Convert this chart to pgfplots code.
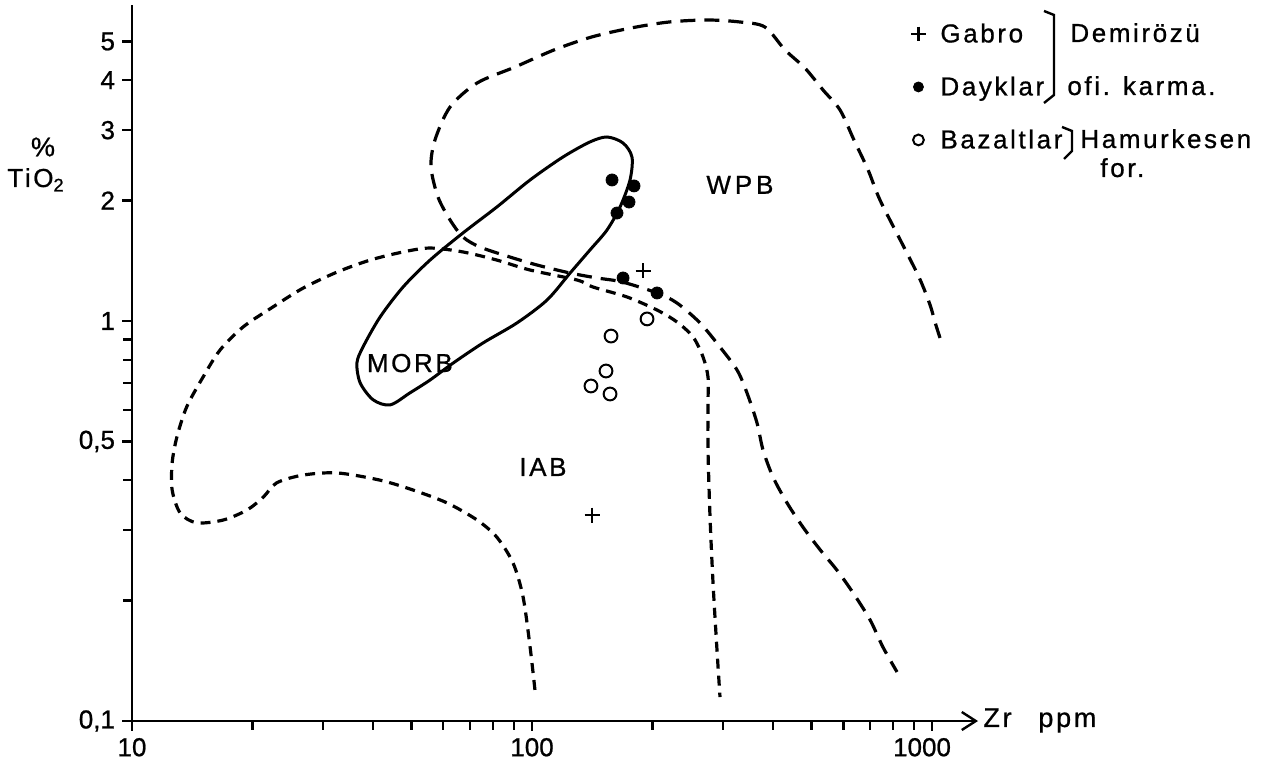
\documentclass[border=0pt]{standalone}
\usepackage{pgfplots}
\pgfplotsset{compat=1.18}
\usepackage{fontspec}
\setmainfont{Liberation Sans}[FakeBold=0.8]
\newfontfamily\lfont[LetterSpace=10,FakeBold=0.8]{Liberation Sans}
\usetikzlibrary{arrows.meta}
\pgfplotsset{
  legplus/.style={legend image code/.code={\path[draw=none,fill=none] (0pt,-3pt) rectangle (12pt,3pt); \draw[##1,mark size=3.6pt,line width=1.2pt] plot coordinates {(5pt,1pt)};}},
  legdot/.style={legend image code/.code={\path[draw=none,fill=none] (0pt,-3pt) rectangle (12pt,3pt); \draw[##1,mark size=2.5pt] plot coordinates {(5pt,1pt)};}},
  legcirc/.style={legend image code/.code={\path[draw=none,fill=none] (0pt,-3pt) rectangle (12pt,3pt); \draw[##1,mark size=2.7pt,line width=1pt] plot coordinates {(5pt,1pt)};}},
}
\begin{document}
\begin{tikzpicture}
\path[use as bounding box] (-66pt,-21.5pt) rectangle (572.5pt,360.5pt);
\begin{axis}[
  scale only axis, width=423pt, height=358pt,
  xmode=log, ymode=log,
  xmin=10, xmax=1303, ymin=0.1, ymax=6.166,
  axis x line=bottom, axis y line=left,
  x axis line style={line width=1.4pt, -{Straight Barb[length=7pt,width=9pt,line width=1.2pt]}},
  y axis line style={line width=1.4pt, -},
  tick align=outside,
  major tick length=5pt, minor tick length=4.5pt,
  tick style={black, line width=1.2pt},
  xtick={10,100,1000}, xticklabels={10,100,\hspace*{-10pt}1000},
  minor xtick={20,30,40,50,60,70,80,90,200,300,400,500,600,700,800,900},
  ytick={0.1,0.5,1,2,3,4,5}, yticklabels={{0,1},{0,5},1,2,3,4,5},
  minor ytick={0.2,0.3,0.4,0.6,0.7,0.8,0.9},
  tick label style={font=\fontsize{13}{14}\selectfont},
  clip=false,
  legend cell align=left,
  legend style={draw=none, fill=none, at={(axis description cs:0.9173,0.9804)}, anchor=north west,
    inner sep=0pt, row sep=10pt, column sep=2pt,
    nodes={text height=9.5pt, text depth=3pt, inner sep=2pt},
    font=\lfont\fontsize{13}{14}\selectfont},
]
% WPB field boundary
\addplot[forget plot, smooth, tension=0.5, line width=1.6pt, dash pattern=on 7.5pt off 4.5pt] coordinates {
(1047,0.907)(1017,0.994)(989,1.096)(930,1.28)(845,1.55)(741,2.007)(692,2.386)(638,2.835)
(589,3.368)(534,3.780)(481,4.290)(429,4.760)(382,5.433)(331,5.591)(275,5.656)(220,5.591)
(177,5.402)(141,5.129)(113.5,4.760)(90.7,4.315)(72.9,3.936)(62.4,3.428)(57.2,2.835)(55.9,2.427)
(58.2,2.042)(62.4,1.789)(67.2,1.622)(74.1,1.531)(88.1,1.445)(103,1.380)(124.5,1.318)(145.4,1.281)
(167.9,1.252)(205.4,1.175)(230.4,1.109)(263,0.989)(295,0.861)(325.6,0.754)(344.7,0.661)(365.2,0.556)
(378,0.476)(400.5,0.407)(434,0.351)(476,0.305)(525,0.268)(579,0.238)(635,0.209)(700,0.179)
(754,0.153)(817.5,0.1326)};
% IAB field boundary
\addplot[forget plot, smooth, tension=0.5, line width=1.6pt, dash pattern=on 5pt off 3.5pt] coordinates {
(101.7,0.1196)(98.9,0.153)(95.0,0.204)(89.7,0.248)(81.7,0.288)(72.9,0.318)(61.3,0.351)(50.4,0.378)
(41.7,0.400)(32.6,0.417)(26.8,0.412)(23.0,0.394)(21.3,0.363)(19.4,0.337)(16.9,0.318)(14.5,0.313)
(13.2,0.331)(12.6,0.378)(12.6,0.442)(12.95,0.513)(13.7,0.610)(15.05,0.724)(16.6,0.846)(18.95,0.966)
(22.5,1.084)(26.8,1.209)(32.6,1.326)(39.4,1.420)(47.6,1.488)(55.6,1.522)(67.2,1.488)(81.7,1.420)
(98.9,1.341)(129.6,1.266)(142.1,1.216)(172.9,1.148)(205.4,1.065)(230.4,0.994)(252.7,0.912)(267.6,0.813)
(275.4,0.724)(275.4,0.624)(275.4,0.476)(278.6,0.324)(283.5,0.221)(290,0.1505)(295.1,0.1148)};
% MORB field
\addplot[forget plot, smooth cycle, tension=0.5, line width=1.5pt] coordinates {
(154,2.884)(168.9,2.786)(177.8,2.570)(175.8,2.252)(166,1.928)(154,1.689)(139.6,1.505)(124.5,1.318)
(109,1.128)(91.7,0.989)(75.4,0.881)(63.5,0.785)(55.6,0.712)(49.5,0.661)(44.2,0.617)(40.1,0.635)
(37.2,0.700)(36.5,0.785)(37.8,0.861)(41.7,1.023)(47.6,1.216)(55.6,1.420)(67.2,1.660)(81.7,1.928)
(98.9,2.252)(119.5,2.570)(139.6,2.803)};
% samples
\addplot[only marks, mark=+, mark size=3.75pt, line width=1.2pt, legplus]
  coordinates {(189.5,1.334)(141.3,0.327)};
\addlegendentry{Gabro}
\addplot[only marks, mark=*, mark size=3pt, black, legdot]
  coordinates {(158.5,2.252)(179.9,2.176)(174.8,1.984)(163.1,1.862)(168.9,1.281)(205.4,1.175)};
\addlegendentry{Dayklar}
\addplot[only marks, mark=o, mark size=3.2pt, line width=1pt, legcirc]
  coordinates {(193.9,1.012)(157.6,0.917)(153.1,0.750)(140.4,0.688)(156.7,0.657)};
\addlegendentry{Bazaltlar}
% field labels
\node[font=\lfont\fontsize{13}{14}\selectfont] at (axis cs:331,2.19) {W\hspace{0.15em}P\hspace{0.15em}B};
\node[font=\lfont\fontsize{13}{14}\selectfont] at (axis cs:49.5,0.785) {MORB};
\node[font=\lfont\fontsize{13}{14}\selectfont] at (axis cs:106.5,0.4315) {IAB};
\end{axis}
% axis titles
\node[font=\lfont\fontsize{13.5}{14}\selectfont] at (-44.5pt,287pt) {\%};
\node[font=\lfont\fontsize{13}{14}\selectfont, anchor=base west, inner sep=0pt] at (-62.5pt,267pt) {TiO\textsubscript{2}};
\node[font=\lfont\fontsize{13.5}{14}\selectfont, anchor=base west, inner sep=0pt] at (425.5pt,-3pt) {Zr};
\node[font=\lfont\fontsize{13.5}{14}\selectfont, anchor=base west, inner sep=0pt] at (453pt,-3pt) {ppm};
% legend group brackets and texts
\draw[line width=1.2pt] (456pt,355pt) -- (461pt,353pt) -- (461pt,313pt) -- (456pt,309pt);
\draw[line width=1.2pt] (465pt,297pt) -- (470pt,295pt) -- (470pt,285pt) -- (466pt,281pt);
\begin{scope}[every node/.style={font=\lfont\fontsize{13}{14}\selectfont, anchor=base west, inner sep=0pt}]
\node at (469pt,339.5pt) {Demirözü};
\node at (467.5pt,313pt) {ofi. karma.};
\node at (474pt,286.5pt) {Hamurkesen};
\node at (484pt,272pt) {for.};
\end{scope}
\end{tikzpicture}
\end{document}
